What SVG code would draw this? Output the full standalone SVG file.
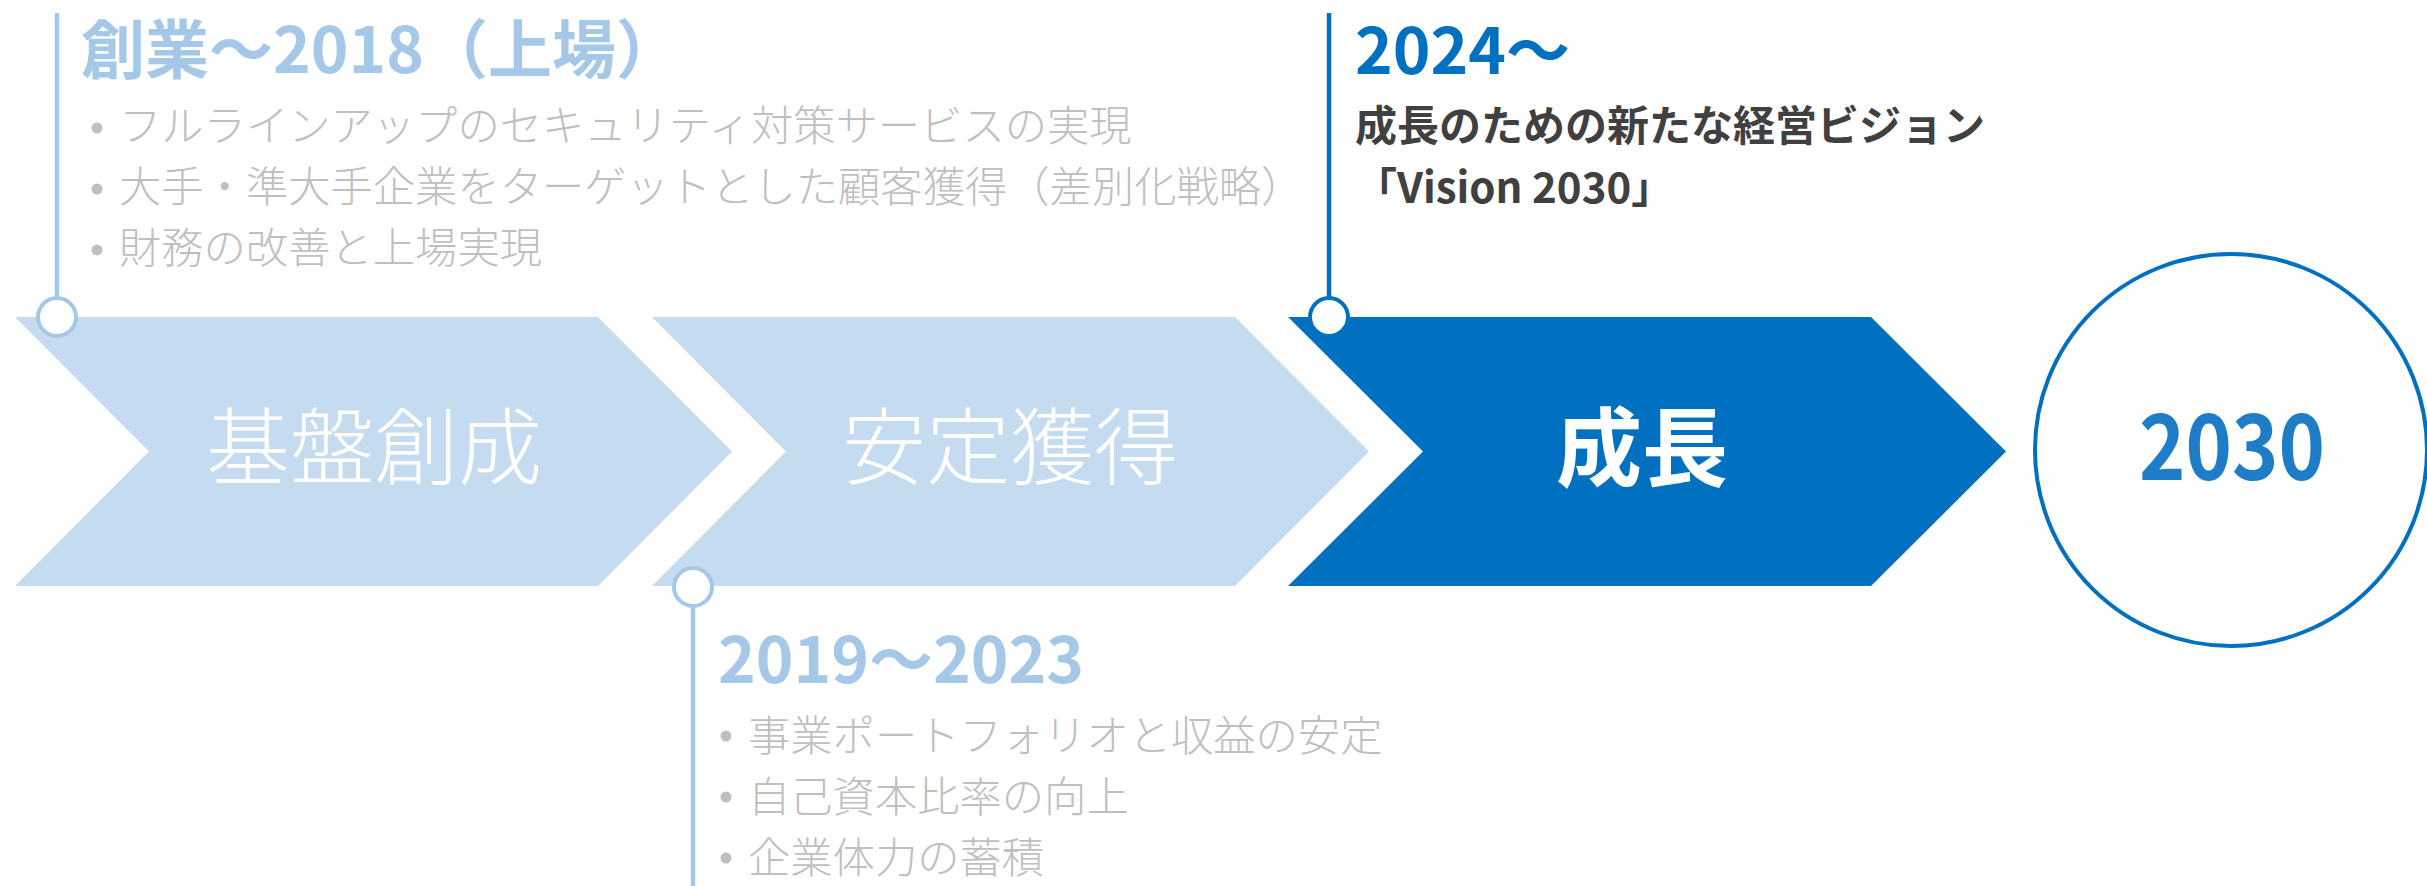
<svg xmlns="http://www.w3.org/2000/svg" width="2427" height="886" viewBox="0 0 2427 886">
<style>
.jp{font-family:"Noto Sans CJK JP","Noto Sans CJK SC",sans-serif}
.title{font-size:64px;font-weight:700}
.lt{fill:#a5c8e8}
.bul{font-size:42.3px;fill:#bfbfbf;font-weight:300}
.dot{fill:#bfbfbf}
.chl{fill:#c5dbef}
.chd{fill:#0070c0}
.lab{font-size:84px;fill:#ffffff;font-weight:300;text-anchor:middle}
.lineL{stroke:#a5c8e8;stroke-width:4.5;fill:none}
.lineD{stroke:#0070c0;stroke-width:4.5;fill:none}
.mkL{stroke:#a5c8e8;stroke-width:4;fill:#ffffff}
.mkD{stroke:#0070c0;stroke-width:4;fill:#ffffff}
</style>
<rect width="2427" height="886" fill="#ffffff"/>
<g id="chevron-kiban">
<polygon class="chl" points="15,317 598,317 732,451.5 598,586 15,586 149,451.5"/>
<text class="jp lab" x="374" y="478">基盤創成</text>
</g>
<g id="chevron-antei">
<polygon class="chl" points="652,317 1235,317 1369,451.5 1235,586 652,586 786,451.5"/>
<text class="jp lab" x="1010" y="478">安定獲得</text>
</g>
<g id="chevron-seicho">
<polygon class="chd" points="1288,317 1871,317 2006,451.5 1871,586 1288,586 1423,451.5"/>
<text class="jp" x="1642" y="480" font-size="86" font-weight="700" fill="#ffffff" text-anchor="middle">成長</text>
</g>
<g id="goal-2030">
<circle cx="2231" cy="450" r="196" fill="#ffffff" stroke="#0070c0" stroke-width="4"/>
<text class="jp" x="2139" y="480" font-size="91" font-weight="700" fill="#1f7dc8" textLength="186" lengthAdjust="spacingAndGlyphs">2030</text>
</g>
<g id="connectors">
<line class="lineL" x1="57" y1="13" x2="57" y2="298"/>
<circle class="mkL" cx="57" cy="317" r="19"/>
<line class="lineL" x1="693" y1="606" x2="693" y2="886"/>
<circle class="mkL" cx="693" cy="587" r="19"/>
<line class="lineD" x1="1329" y1="13" x2="1329" y2="298"/>
<circle class="mkD" cx="1329" cy="317" r="19"/>
</g>
<g id="phase1-text">
<text class="jp title lt" x="81" y="73">創業～2018（上場）</text>
<circle class="dot" cx="97" cy="128" r="5.5"/>
<text class="jp bul" x="119" y="141">フルラインアップのセキュリティ対策サービスの実現</text>
<circle class="dot" cx="97" cy="189" r="5.5"/>
<text class="jp bul" x="119" y="202">大手・準大手企業をターゲットとした顧客獲得（差別化戦略）</text>
<circle class="dot" cx="97" cy="250" r="5.5"/>
<text class="jp bul" x="119" y="263">財務の改善と上場実現</text>
</g>
<g id="phase2-text">
<text class="jp title lt" x="718" y="683">2019～2023</text>
<circle class="dot" cx="726" cy="736" r="5.5"/>
<text class="jp bul" x="748" y="751">事業ポートフォリオと収益の安定</text>
<circle class="dot" cx="726" cy="797" r="5.5"/>
<text class="jp bul" x="748" y="812">自己資本比率の向上</text>
<circle class="dot" cx="726" cy="858" r="5.5"/>
<text class="jp bul" x="748" y="873">企業体力の蓄積</text>
</g>
<g id="phase3-text">
<text class="jp title" x="1355" y="74" fill="#0070c0">2024～</text>
<text class="jp" x="1355" y="141" font-size="42" font-weight="700" fill="#404040">成長のための新たな経営ビジョン</text>
<text class="jp" x="1355" y="203" font-size="42" font-weight="700" fill="#404040">「Vision 2030」</text>
</g>
</svg>
